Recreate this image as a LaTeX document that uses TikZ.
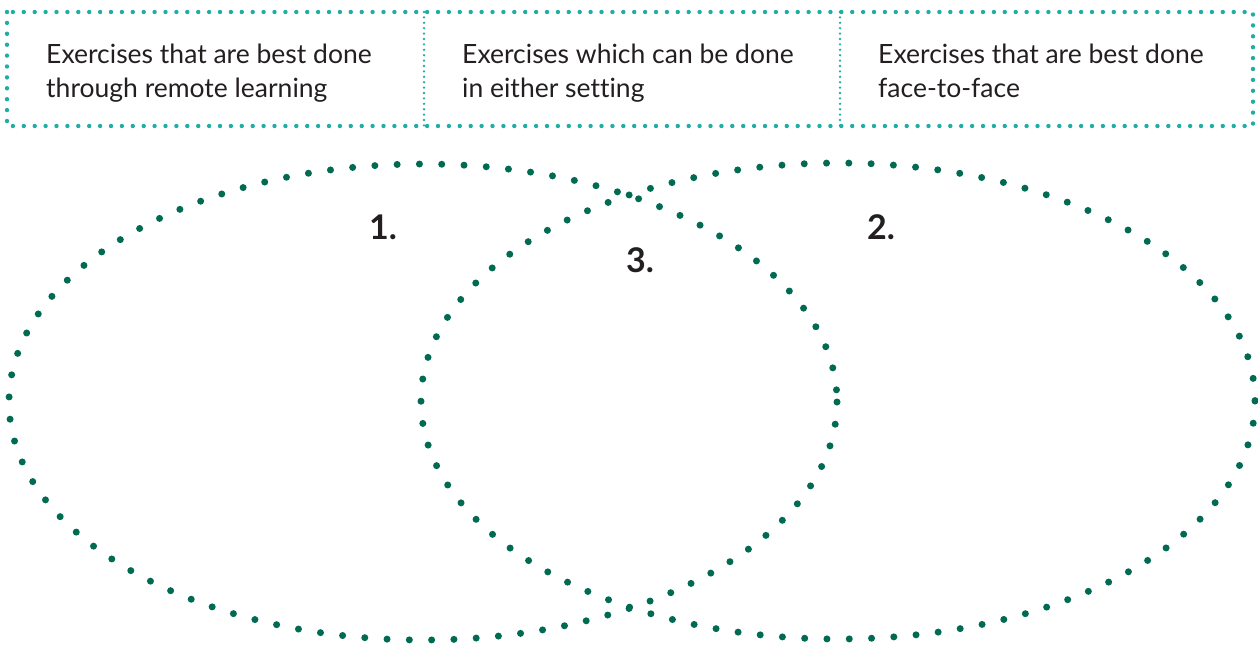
\documentclass[tikz,border=0pt]{standalone}
\usepackage{fontspec}
\setmainfont{Lato}[Ligatures=NoCommon]
\usepackage{tikz}
\usetikzlibrary{calc}

\definecolor{boxteal}{HTML}{1FADA4}
\definecolor{venngreen}{HTML}{006A53}
\definecolor{textgrey}{HTML}{231F20}

\begin{document}
\begin{tikzpicture}[x=1pt,y=-1pt,line cap=round,
  boxdots/.style={draw=boxteal,line width=4.4pt,dash pattern=on 0pt off 10.9pt},
  divdots/.style={draw=boxteal,line width=2.6pt,dash pattern=on 0pt off 5.4pt},
  venndots/.style={draw=venngreen,line width=7pt,dash pattern=on 0pt off 22.3pt},
  heading/.style={anchor=north west,inner sep=0pt,align=left,text=textgrey,
    font=\fontsize{26.5}{34}\selectfont},
  number/.style={text=textgrey,inner sep=0pt,font=\fontsize{34}{36}\selectfont\bfseries}]

  \useasboundingbox (0,0) rectangle (1258,646);

  % table of headings
  \draw[boxdots] (7,12) rectangle (1253,126);
  \draw[divdots] (424,12) -- (424,126);
  \draw[divdots] (840,12) -- (840,126);

  \node[heading] (remote) at (46,44) {Exercises that are best done\\through remote learning};
  \node[heading] (either) at (462,44) {Exercises which can be done\\in either setting};
  \node[heading] (facetoface) at (878,44) {Exercises that are best done\\face-to-face};

  % venn diagram
  \draw[venndots] (423,402) ellipse [x radius=414,y radius=238];
  \draw[venndots] (838,401) ellipse [x radius=417,y radius=238];

  \node[number] (1) at (383,227) {1.};
  \node[number] (2) at (881,227) {2.};
  \node[number] (3) at (640,260) {3.};
\end{tikzpicture}
\end{document}
